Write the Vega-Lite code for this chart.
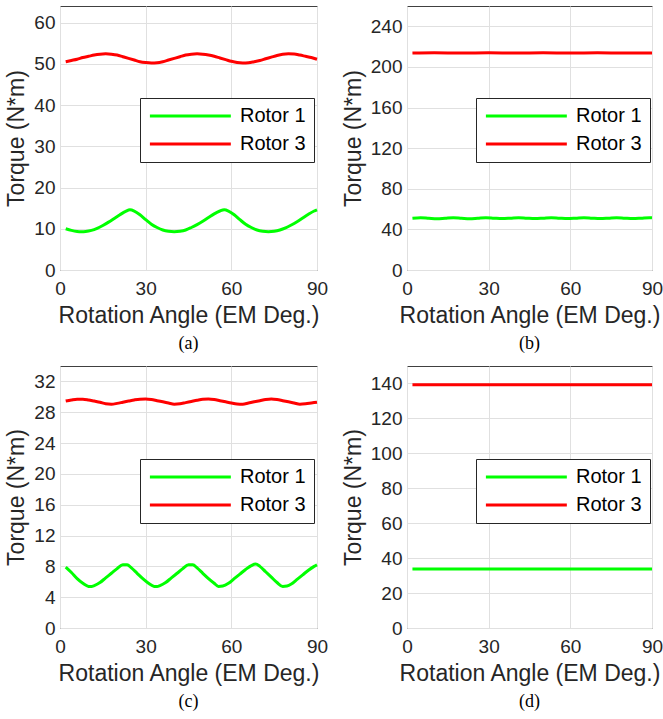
{
  "$schema": "https://vega.github.io/schema/vega-lite/v6.json",
  "padding": {"left": 5, "top": 5, "right": 0, "bottom": 0},
  "background": "white",
  "columns": 2,
  "spacing": {"row": 96, "column": 90},
  "bounds": "flush",
  "resolve": {"legend": {"color": "independent"}, "scale": {"y": "independent", "color": "independent"}},
  "config": {
    "font": "Liberation Sans",
    "view": {"stroke": "#404040", "strokeWidth": 1},
    "axis": {
      "domain": false,
      "ticks": false,
      "grid": true,
      "gridColor": "#e0e0e0",
      "gridWidth": 1,
      "labelFont": "Liberation Sans",
      "labelFontSize": 19,
      "labelColor": "#262626",
      "titleFont": "Liberation Sans",
      "titleFontSize": 23,
      "titleFontWeight": "normal",
      "titleColor": "#262626"
    },
    "axisX": {"labelPadding": 9, "titlePadding": 6, "labelFlush": false},
    "axisY": {"labelPadding": 5, "titlePadding": 5},
    "legend": {
      "strokeColor": "#262626",
      "fillColor": "white",
      "padding": 8,
      "symbolType": "M-1,0H9",
      "symbolSize": 262,
      "symbolStrokeWidth": 3,
      "labelFont": "Liberation Sans",
      "labelFontSize": 20,
      "labelColor": "#000000",
      "labelOffset": 72,
      "rowPadding": 8,
      "title": null
    },
    "title": {"font": "Liberation Serif", "fontSize": 18, "fontWeight": "normal", "color": "#000000", "orient": "bottom", "frame": "group", "anchor": "middle", "offset": 8}
  },
  "datasets": {
    "a": [
      {"angle": 2, "rotor": "Rotor 1", "torque": 10.0}, {"angle": 4, "rotor": "Rotor 1", "torque": 9.6}, {"angle": 6, "rotor": "Rotor 1", "torque": 9.35}, {"angle": 7.5, "rotor": "Rotor 1", "torque": 9.3}, {"angle": 9, "rotor": "Rotor 1", "torque": 9.35}, {"angle": 11, "rotor": "Rotor 1", "torque": 9.6}, {"angle": 13, "rotor": "Rotor 1", "torque": 10.1}, {"angle": 15, "rotor": "Rotor 1", "torque": 10.8}, {"angle": 17, "rotor": "Rotor 1", "torque": 11.6}, {"angle": 19, "rotor": "Rotor 1", "torque": 12.5}, {"angle": 21, "rotor": "Rotor 1", "torque": 13.4}, {"angle": 23, "rotor": "Rotor 1", "torque": 14.2}, {"angle": 24.5, "rotor": "Rotor 1", "torque": 14.6}, {"angle": 26, "rotor": "Rotor 1", "torque": 14.3}, {"angle": 28, "rotor": "Rotor 1", "torque": 13.4}, {"angle": 30, "rotor": "Rotor 1", "torque": 12.2}, {"angle": 32, "rotor": "Rotor 1", "torque": 11.1}, {"angle": 34, "rotor": "Rotor 1", "torque": 10.3}, {"angle": 36, "rotor": "Rotor 1", "torque": 9.7}, {"angle": 38, "rotor": "Rotor 1", "torque": 9.4}, {"angle": 40, "rotor": "Rotor 1", "torque": 9.3}, {"angle": 42, "rotor": "Rotor 1", "torque": 9.4}, {"angle": 44, "rotor": "Rotor 1", "torque": 9.7}, {"angle": 46, "rotor": "Rotor 1", "torque": 10.3}, {"angle": 48, "rotor": "Rotor 1", "torque": 11.0}, {"angle": 50, "rotor": "Rotor 1", "torque": 11.8}, {"angle": 52, "rotor": "Rotor 1", "torque": 12.7}, {"angle": 54, "rotor": "Rotor 1", "torque": 13.6}, {"angle": 56, "rotor": "Rotor 1", "torque": 14.3}, {"angle": 57.5, "rotor": "Rotor 1", "torque": 14.6}, {"angle": 59, "rotor": "Rotor 1", "torque": 14.3}, {"angle": 61, "rotor": "Rotor 1", "torque": 13.4}, {"angle": 63, "rotor": "Rotor 1", "torque": 12.2}, {"angle": 65, "rotor": "Rotor 1", "torque": 11.1}, {"angle": 67, "rotor": "Rotor 1", "torque": 10.3}, {"angle": 69, "rotor": "Rotor 1", "torque": 9.7}, {"angle": 71, "rotor": "Rotor 1", "torque": 9.4}, {"angle": 73, "rotor": "Rotor 1", "torque": 9.3}, {"angle": 75, "rotor": "Rotor 1", "torque": 9.4}, {"angle": 77, "rotor": "Rotor 1", "torque": 9.7}, {"angle": 79, "rotor": "Rotor 1", "torque": 10.2}, {"angle": 81, "rotor": "Rotor 1", "torque": 10.9}, {"angle": 83, "rotor": "Rotor 1", "torque": 11.7}, {"angle": 85, "rotor": "Rotor 1", "torque": 12.6}, {"angle": 87, "rotor": "Rotor 1", "torque": 13.5}, {"angle": 89, "rotor": "Rotor 1", "torque": 14.3}, {"angle": 90, "rotor": "Rotor 1", "torque": 14.6},
      {"angle": 2, "rotor": "Rotor 3", "torque": 50.5}, {"angle": 4, "rotor": "Rotor 3", "torque": 50.8}, {"angle": 6, "rotor": "Rotor 3", "torque": 51.1}, {"angle": 8, "rotor": "Rotor 3", "torque": 51.5}, {"angle": 10, "rotor": "Rotor 3", "torque": 51.8}, {"angle": 12, "rotor": "Rotor 3", "torque": 52.1}, {"angle": 14, "rotor": "Rotor 3", "torque": 52.3}, {"angle": 16, "rotor": "Rotor 3", "torque": 52.4}, {"angle": 18, "rotor": "Rotor 3", "torque": 52.3}, {"angle": 20, "rotor": "Rotor 3", "torque": 52.1}, {"angle": 22, "rotor": "Rotor 3", "torque": 51.7}, {"angle": 24, "rotor": "Rotor 3", "torque": 51.3}, {"angle": 26, "rotor": "Rotor 3", "torque": 50.9}, {"angle": 28, "rotor": "Rotor 3", "torque": 50.5}, {"angle": 30, "rotor": "Rotor 3", "torque": 50.3}, {"angle": 32, "rotor": "Rotor 3", "torque": 50.2}, {"angle": 34, "rotor": "Rotor 3", "torque": 50.25}, {"angle": 36, "rotor": "Rotor 3", "torque": 50.5}, {"angle": 38, "rotor": "Rotor 3", "torque": 50.9}, {"angle": 40, "rotor": "Rotor 3", "torque": 51.3}, {"angle": 42, "rotor": "Rotor 3", "torque": 51.7}, {"angle": 44, "rotor": "Rotor 3", "torque": 52.1}, {"angle": 46, "rotor": "Rotor 3", "torque": 52.3}, {"angle": 48, "rotor": "Rotor 3", "torque": 52.4}, {"angle": 50, "rotor": "Rotor 3", "torque": 52.3}, {"angle": 52, "rotor": "Rotor 3", "torque": 52.1}, {"angle": 54, "rotor": "Rotor 3", "torque": 51.8}, {"angle": 56, "rotor": "Rotor 3", "torque": 51.4}, {"angle": 58, "rotor": "Rotor 3", "torque": 51.0}, {"angle": 60, "rotor": "Rotor 3", "torque": 50.6}, {"angle": 62, "rotor": "Rotor 3", "torque": 50.3}, {"angle": 64, "rotor": "Rotor 3", "torque": 50.2}, {"angle": 66, "rotor": "Rotor 3", "torque": 50.25}, {"angle": 68, "rotor": "Rotor 3", "torque": 50.5}, {"angle": 70, "rotor": "Rotor 3", "torque": 50.8}, {"angle": 72, "rotor": "Rotor 3", "torque": 51.2}, {"angle": 74, "rotor": "Rotor 3", "torque": 51.6}, {"angle": 76, "rotor": "Rotor 3", "torque": 52.0}, {"angle": 78, "rotor": "Rotor 3", "torque": 52.3}, {"angle": 80, "rotor": "Rotor 3", "torque": 52.4}, {"angle": 82, "rotor": "Rotor 3", "torque": 52.35}, {"angle": 84, "rotor": "Rotor 3", "torque": 52.1}, {"angle": 86, "rotor": "Rotor 3", "torque": 51.8}, {"angle": 88, "rotor": "Rotor 3", "torque": 51.5}, {"angle": 90, "rotor": "Rotor 3", "torque": 51.1}
    ],
    "b": [
      {"angle": 2, "rotor": "Rotor 1", "torque": 51.0}, {"angle": 5, "rotor": "Rotor 1", "torque": 51.5}, {"angle": 8, "rotor": "Rotor 1", "torque": 51.0}, {"angle": 11, "rotor": "Rotor 1", "torque": 50.5}, {"angle": 14, "rotor": "Rotor 1", "torque": 51.0}, {"angle": 17, "rotor": "Rotor 1", "torque": 51.5}, {"angle": 20, "rotor": "Rotor 1", "torque": 51.0}, {"angle": 23, "rotor": "Rotor 1", "torque": 50.5}, {"angle": 26, "rotor": "Rotor 1", "torque": 51.0}, {"angle": 29, "rotor": "Rotor 1", "torque": 51.5}, {"angle": 32, "rotor": "Rotor 1", "torque": 51.0}, {"angle": 35, "rotor": "Rotor 1", "torque": 50.6}, {"angle": 38, "rotor": "Rotor 1", "torque": 51.0}, {"angle": 41, "rotor": "Rotor 1", "torque": 51.5}, {"angle": 44, "rotor": "Rotor 1", "torque": 51.0}, {"angle": 47, "rotor": "Rotor 1", "torque": 50.6}, {"angle": 50, "rotor": "Rotor 1", "torque": 51.0}, {"angle": 53, "rotor": "Rotor 1", "torque": 51.5}, {"angle": 56, "rotor": "Rotor 1", "torque": 51.0}, {"angle": 59, "rotor": "Rotor 1", "torque": 50.6}, {"angle": 62, "rotor": "Rotor 1", "torque": 51.0}, {"angle": 65, "rotor": "Rotor 1", "torque": 51.5}, {"angle": 68, "rotor": "Rotor 1", "torque": 51.0}, {"angle": 71, "rotor": "Rotor 1", "torque": 50.6}, {"angle": 74, "rotor": "Rotor 1", "torque": 51.0}, {"angle": 77, "rotor": "Rotor 1", "torque": 51.5}, {"angle": 80, "rotor": "Rotor 1", "torque": 51.0}, {"angle": 83, "rotor": "Rotor 1", "torque": 50.6}, {"angle": 86, "rotor": "Rotor 1", "torque": 51.0}, {"angle": 89, "rotor": "Rotor 1", "torque": 51.5}, {"angle": 90, "rotor": "Rotor 1", "torque": 51.4},
      {"angle": 2, "rotor": "Rotor 3", "torque": 213.6}, {"angle": 10, "rotor": "Rotor 3", "torque": 213.9}, {"angle": 20, "rotor": "Rotor 3", "torque": 213.6}, {"angle": 30, "rotor": "Rotor 3", "torque": 213.9}, {"angle": 40, "rotor": "Rotor 3", "torque": 213.6}, {"angle": 50, "rotor": "Rotor 3", "torque": 213.9}, {"angle": 60, "rotor": "Rotor 3", "torque": 213.6}, {"angle": 70, "rotor": "Rotor 3", "torque": 213.9}, {"angle": 80, "rotor": "Rotor 3", "torque": 213.6}, {"angle": 90, "rotor": "Rotor 3", "torque": 213.8}
    ],
    "c": [
      {"angle": 2, "rotor": "Rotor 1", "torque": 7.9}, {"angle": 4, "rotor": "Rotor 1", "torque": 7.2}, {"angle": 6, "rotor": "Rotor 1", "torque": 6.4}, {"angle": 8, "rotor": "Rotor 1", "torque": 5.8}, {"angle": 10, "rotor": "Rotor 1", "torque": 5.4}, {"angle": 11, "rotor": "Rotor 1", "torque": 5.38}, {"angle": 12, "rotor": "Rotor 1", "torque": 5.5}, {"angle": 14, "rotor": "Rotor 1", "torque": 5.9}, {"angle": 16, "rotor": "Rotor 1", "torque": 6.5}, {"angle": 18, "rotor": "Rotor 1", "torque": 7.1}, {"angle": 20, "rotor": "Rotor 1", "torque": 7.7}, {"angle": 22, "rotor": "Rotor 1", "torque": 8.2}, {"angle": 23.5, "rotor": "Rotor 1", "torque": 8.2}, {"angle": 25, "rotor": "Rotor 1", "torque": 7.8}, {"angle": 27, "rotor": "Rotor 1", "torque": 7.1}, {"angle": 29, "rotor": "Rotor 1", "torque": 6.4}, {"angle": 31, "rotor": "Rotor 1", "torque": 5.8}, {"angle": 33, "rotor": "Rotor 1", "torque": 5.4}, {"angle": 34, "rotor": "Rotor 1", "torque": 5.38}, {"angle": 35, "rotor": "Rotor 1", "torque": 5.5}, {"angle": 37, "rotor": "Rotor 1", "torque": 5.9}, {"angle": 39, "rotor": "Rotor 1", "torque": 6.5}, {"angle": 41, "rotor": "Rotor 1", "torque": 7.1}, {"angle": 43, "rotor": "Rotor 1", "torque": 7.7}, {"angle": 45, "rotor": "Rotor 1", "torque": 8.2}, {"angle": 46.5, "rotor": "Rotor 1", "torque": 8.2}, {"angle": 48, "rotor": "Rotor 1", "torque": 7.8}, {"angle": 50, "rotor": "Rotor 1", "torque": 7.1}, {"angle": 52, "rotor": "Rotor 1", "torque": 6.4}, {"angle": 54, "rotor": "Rotor 1", "torque": 5.8}, {"angle": 55.5, "rotor": "Rotor 1", "torque": 5.4}, {"angle": 57, "rotor": "Rotor 1", "torque": 5.45}, {"angle": 59, "rotor": "Rotor 1", "torque": 5.8}, {"angle": 61, "rotor": "Rotor 1", "torque": 6.4}, {"angle": 63, "rotor": "Rotor 1", "torque": 7.0}, {"angle": 65, "rotor": "Rotor 1", "torque": 7.6}, {"angle": 67, "rotor": "Rotor 1", "torque": 8.1}, {"angle": 68.5, "rotor": "Rotor 1", "torque": 8.3}, {"angle": 70, "rotor": "Rotor 1", "torque": 8.0}, {"angle": 72, "rotor": "Rotor 1", "torque": 7.3}, {"angle": 74, "rotor": "Rotor 1", "torque": 6.6}, {"angle": 76, "rotor": "Rotor 1", "torque": 5.9}, {"angle": 78, "rotor": "Rotor 1", "torque": 5.4}, {"angle": 79.5, "rotor": "Rotor 1", "torque": 5.45}, {"angle": 81, "rotor": "Rotor 1", "torque": 5.7}, {"angle": 83, "rotor": "Rotor 1", "torque": 6.3}, {"angle": 85, "rotor": "Rotor 1", "torque": 6.9}, {"angle": 87, "rotor": "Rotor 1", "torque": 7.5}, {"angle": 89, "rotor": "Rotor 1", "torque": 8.0}, {"angle": 90, "rotor": "Rotor 1", "torque": 8.2},
      {"angle": 2, "rotor": "Rotor 3", "torque": 29.45}, {"angle": 4, "rotor": "Rotor 3", "torque": 29.6}, {"angle": 6, "rotor": "Rotor 3", "torque": 29.7}, {"angle": 8, "rotor": "Rotor 3", "torque": 29.7}, {"angle": 10, "rotor": "Rotor 3", "torque": 29.6}, {"angle": 12, "rotor": "Rotor 3", "torque": 29.45}, {"angle": 14, "rotor": "Rotor 3", "torque": 29.3}, {"angle": 16, "rotor": "Rotor 3", "torque": 29.1}, {"angle": 18, "rotor": "Rotor 3", "torque": 29.05}, {"angle": 20, "rotor": "Rotor 3", "torque": 29.15}, {"angle": 22, "rotor": "Rotor 3", "torque": 29.3}, {"angle": 24, "rotor": "Rotor 3", "torque": 29.45}, {"angle": 26, "rotor": "Rotor 3", "torque": 29.6}, {"angle": 28, "rotor": "Rotor 3", "torque": 29.7}, {"angle": 30, "rotor": "Rotor 3", "torque": 29.72}, {"angle": 32, "rotor": "Rotor 3", "torque": 29.65}, {"angle": 34, "rotor": "Rotor 3", "torque": 29.5}, {"angle": 36, "rotor": "Rotor 3", "torque": 29.35}, {"angle": 38, "rotor": "Rotor 3", "torque": 29.2}, {"angle": 40, "rotor": "Rotor 3", "torque": 29.05}, {"angle": 42, "rotor": "Rotor 3", "torque": 29.1}, {"angle": 44, "rotor": "Rotor 3", "torque": 29.25}, {"angle": 46, "rotor": "Rotor 3", "torque": 29.4}, {"angle": 48, "rotor": "Rotor 3", "torque": 29.55}, {"angle": 50, "rotor": "Rotor 3", "torque": 29.68}, {"angle": 52, "rotor": "Rotor 3", "torque": 29.72}, {"angle": 54, "rotor": "Rotor 3", "torque": 29.65}, {"angle": 56, "rotor": "Rotor 3", "torque": 29.5}, {"angle": 58, "rotor": "Rotor 3", "torque": 29.35}, {"angle": 60, "rotor": "Rotor 3", "torque": 29.2}, {"angle": 62, "rotor": "Rotor 3", "torque": 29.08}, {"angle": 64, "rotor": "Rotor 3", "torque": 29.05}, {"angle": 66, "rotor": "Rotor 3", "torque": 29.2}, {"angle": 68, "rotor": "Rotor 3", "torque": 29.35}, {"angle": 70, "rotor": "Rotor 3", "torque": 29.5}, {"angle": 72, "rotor": "Rotor 3", "torque": 29.65}, {"angle": 74, "rotor": "Rotor 3", "torque": 29.72}, {"angle": 76, "rotor": "Rotor 3", "torque": 29.65}, {"angle": 78, "rotor": "Rotor 3", "torque": 29.5}, {"angle": 80, "rotor": "Rotor 3", "torque": 29.35}, {"angle": 82, "rotor": "Rotor 3", "torque": 29.2}, {"angle": 84, "rotor": "Rotor 3", "torque": 29.05}, {"angle": 86, "rotor": "Rotor 3", "torque": 29.1}, {"angle": 88, "rotor": "Rotor 3", "torque": 29.2}, {"angle": 90, "rotor": "Rotor 3", "torque": 29.3}
    ],
    "d": [
      {"angle": 2, "rotor": "Rotor 1", "torque": 33.8}, {"angle": 20, "rotor": "Rotor 1", "torque": 33.8}, {"angle": 40, "rotor": "Rotor 1", "torque": 33.8}, {"angle": 60, "rotor": "Rotor 1", "torque": 33.8}, {"angle": 80, "rotor": "Rotor 1", "torque": 33.8}, {"angle": 90, "rotor": "Rotor 1", "torque": 33.8},
      {"angle": 2, "rotor": "Rotor 3", "torque": 139.2}, {"angle": 20, "rotor": "Rotor 3", "torque": 139.2}, {"angle": 40, "rotor": "Rotor 3", "torque": 139.2}, {"angle": 60, "rotor": "Rotor 3", "torque": 139.2}, {"angle": 80, "rotor": "Rotor 3", "torque": 139.2}, {"angle": 90, "rotor": "Rotor 3", "torque": 139.2}
    ]
  },
  "concat": [
    {
      "width": 257, "height": 264,
      "data": {"name": "a"},
      "title": {"text": "(a)"},
      "mark": {"type": "line", "strokeWidth": 3, "interpolate": "monotone"},
      "encoding": {
        "x": {"field": "angle", "type": "quantitative", "scale": {"domain": [0, 90], "nice": false, "zero": false}, "axis": {"values": [0, 30, 60, 90], "title": "Rotation Angle (EM Deg.)"}},
        "y": {"field": "torque", "type": "quantitative", "scale": {"domain": [0, 64], "nice": false, "zero": false}, "axis": {"values": [0, 10, 20, 30, 40, 50, 60], "title": "Torque (N*m)"}},
        "color": {"field": "rotor", "type": "nominal", "scale": {"domain": ["Rotor 1", "Rotor 3"], "range": ["#00ff00", "#ff0000"]}, "legend": {"orient": "none", "legendX": 80, "legendY": 92}}
      }
    },
    {
      "width": 245, "height": 264,
      "data": {"name": "b"},
      "title": {"text": "(b)"},
      "mark": {"type": "line", "strokeWidth": 3, "interpolate": "monotone"},
      "encoding": {
        "x": {"field": "angle", "type": "quantitative", "scale": {"domain": [0, 90], "nice": false, "zero": false}, "axis": {"values": [0, 30, 60, 90], "title": "Rotation Angle (EM Deg.)"}},
        "y": {"field": "torque", "type": "quantitative", "scale": {"domain": [0, 260], "nice": false, "zero": false}, "axis": {"values": [0, 40, 80, 120, 160, 200, 240], "title": "Torque (N*m)"}},
        "color": {"field": "rotor", "type": "nominal", "scale": {"domain": ["Rotor 1", "Rotor 3"], "range": ["#00ff00", "#ff0000"]}, "legend": {"orient": "none", "legendX": 69, "legendY": 92}}
      }
    },
    {
      "width": 257, "height": 262,
      "data": {"name": "c"},
      "title": {"text": "(c)"},
      "mark": {"type": "line", "strokeWidth": 3, "interpolate": "monotone"},
      "encoding": {
        "x": {"field": "angle", "type": "quantitative", "scale": {"domain": [0, 90], "nice": false, "zero": false}, "axis": {"values": [0, 30, 60, 90], "title": "Rotation Angle (EM Deg.)"}},
        "y": {"field": "torque", "type": "quantitative", "scale": {"domain": [0, 34], "nice": false, "zero": false}, "axis": {"values": [0, 4, 8, 12, 16, 20, 24, 28, 32], "title": "Torque (N*m)"}},
        "color": {"field": "rotor", "type": "nominal", "scale": {"domain": ["Rotor 1", "Rotor 3"], "range": ["#00ff00", "#ff0000"]}, "legend": {"orient": "none", "legendX": 80, "legendY": 93}}
      }
    },
    {
      "width": 245, "height": 262,
      "data": {"name": "d"},
      "title": {"text": "(d)"},
      "mark": {"type": "line", "strokeWidth": 3, "interpolate": "monotone"},
      "encoding": {
        "x": {"field": "angle", "type": "quantitative", "scale": {"domain": [0, 90], "nice": false, "zero": false}, "axis": {"values": [0, 30, 60, 90], "title": "Rotation Angle (EM Deg.)"}},
        "y": {"field": "torque", "type": "quantitative", "scale": {"domain": [0, 150], "nice": false, "zero": false}, "axis": {"values": [0, 20, 40, 60, 80, 100, 120, 140], "title": "Torque (N*m)"}},
        "color": {"field": "rotor", "type": "nominal", "scale": {"domain": ["Rotor 1", "Rotor 3"], "range": ["#00ff00", "#ff0000"]}, "legend": {"orient": "none", "legendX": 69, "legendY": 93}}
      }
    }
  ]
}
